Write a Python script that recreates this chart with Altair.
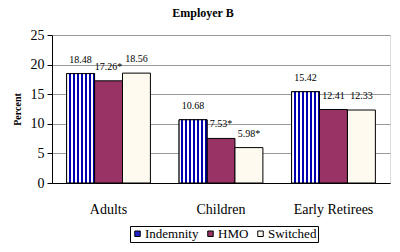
import altair as alt
import pandas as pd

categories = ["Adults", "Children", "Early Retirees"]
series = ["Indemnity", "HMO", "Switched"]
indemnity = [18.48, 10.68, 15.42]
hmo = [17.26, 7.53, 12.41]
switched = [18.56, 5.98, 12.33]
labels_ind = ["18.48", "10.68", "15.42"]
labels_hmo = ["17.26*", "7.53*", "12.41"]
labels_sw = ["18.56", "5.98*", "12.33"]

rows = []
for vals, labs, s in [(indemnity, labels_ind, "Indemnity"), (hmo, labels_hmo, "HMO"), (switched, labels_sw, "Switched")]:
    for c, v, l in zip(categories, vals, labs):
        rows.append({"cat": c, "series": s, "value": v, "label": l})
df = pd.DataFrame(rows)

FONT = "Liberation Serif"

x = alt.X("cat:N", sort=categories, title=None,
          scale=alt.Scale(paddingInner=0.255, paddingOuter=0.13),
          axis=alt.Axis(labelAngle=0, ticks=False, labelPadding=19, labelFontSize=14,
                        labelFont=FONT, labelColor="black", domainColor="black"))
xo = alt.XOffset("series:N", sort=series, scale=alt.Scale(domain=series))
y = alt.Y("value:Q", title="Percent",
          scale=alt.Scale(domain=[0, 25], nice=False),
          axis=alt.Axis(values=[0, 5, 10, 15, 20, 25], labelFontSize=14, labelFont=FONT,
                        labelColor="black", tickColor="black", tickSize=5, labelPadding=3,
                        domainColor="black", gridColor="#999999",
                        titleFont=FONT, titleFontSize=10, titleFontWeight="bold",
                        titleColor="black", titlePadding=8))

color = alt.Color("series:N", sort=series,
                  scale=alt.Scale(domain=series, range=["#2222CC", "#993366", "#FFFAF0"]),
                  legend=alt.Legend(title=None, orient="none", legendX=78, legendY=191,
                                    direction="horizontal", symbolType="square", symbolSize=30,
                                    symbolStrokeColor="black", symbolStrokeWidth=1,
                                    labelFont=FONT, labelFontSize=13, labelColor="black",
                                    labelOffset=1, columnPadding=5, strokeColor="black",
                                    padding=1, symbolOpacity=1))

bars = alt.Chart(df).mark_bar(stroke="black", strokeWidth=1, opacity=1).encode(
    x=x, xOffset=xo, y=y, color=color)

stops = []
n = 7
for i in range(n):
    a = i / n
    b = (i + 0.5) / n
    c = (i + 1) / n
    stops += [{"offset": a, "color": "#ffffff"}, {"offset": b, "color": "#ffffff"},
              {"offset": b, "color": "#0000B0"}, {"offset": c, "color": "#0000B0"}]
grad = {"gradient": "linear", "x1": 0, "x2": 1, "y1": 0, "y2": 0, "stops": stops}

striped = alt.Chart(df).transform_filter(alt.datum.series == "Indemnity").mark_bar(
    fill=grad, stroke="black", strokeWidth=1, opacity=1).encode(x=x, xOffset=xo, y=y)

text = alt.Chart(df).mark_text(font=FONT, fontSize=10, baseline="middle", dy=-14,
                               color="black").encode(x=x, xOffset=xo, y=y, text="label:N")

chart = alt.layer(bars, striped, text).properties(
    width=338, height=148,
    title=alt.TitleParams("Employer B", font=FONT, fontSize=12, fontWeight="bold",
                          color="black", offset=8, dx=-18),
    autosize="none",
    padding={"left": 44, "top": 27, "right": 2, "bottom": 60},
).configure_view(stroke="black", strokeWidth=1).configure(background="white").configure_legend(
    labelFont=FONT, labelFontSize=13)

chart.save("out.html", embed_options={"renderer": "svg", "actions": False})
